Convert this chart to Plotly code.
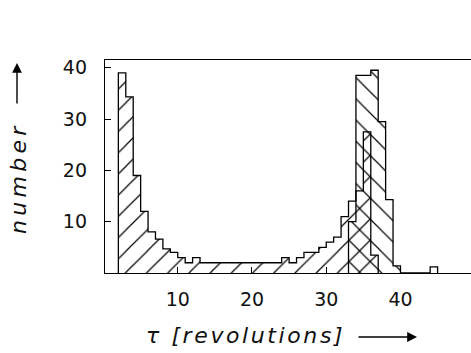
import plotly.graph_objects as go

# ---- data ----
bins_a = list(range(2, 37))            # left edges of the "///" histogram bins
counts_a = [39, 34.3, 19, 12, 8, 6.6, 4.7, 4, 3, 2, 3,
            2, 2, 2, 2, 2, 2, 2, 2, 2, 2, 2,
            3, 2, 3, 4, 4, 5, 6, 7, 11, 14, 16, 27.5, 3.5]
bins_b = list(range(33, 45))           # left edges of the "\\\" histogram bins
counts_b = [10, 38.5, 38.5, 39.5, 29.5, 14.3, 1.4, 0, 0, 0, 0, 1.2]
xticks = [10, 20, 30, 40]
yticks = [10, 20, 30, 40]
bin_width = 1

W, H = 471, 353
ML, MR, MT, MB = 105, 0, 60, 80
PW, PH = W - ML - MR, H - MT - MB


def px(x):
    return (x - ML) / PW


def py(y):
    return (H - MB - y) / PH


def outline(edges, counts):
    xs = [edges[0]] + edges + [edges[-1] + bin_width]
    ys = [0] + counts + [0]
    return xs, ys


fig = go.Figure()

for bins, counts, shape in [(bins_a, counts_a, '/'), (bins_b, counts_b, '\\')]:
    fig.add_trace(go.Bar(
        x=[b + bin_width / 2 for b in bins], y=counts, width=bin_width,
        marker=dict(color='rgba(0,0,0,0)', line=dict(width=0),
                    pattern=dict(shape=shape, fgcolor='black',
                                 bgcolor='rgba(0,0,0,0)', size=15,
                                 solidity=0.08, fillmode='replace')),
        hoverinfo='skip'))

for bins, counts in [(bins_a, counts_a), (bins_b, counts_b)]:
    xs, ys = outline(bins, counts)
    fig.add_trace(go.Scatter(x=xs, y=ys, mode='lines',
                             line=dict(color='black', width=1.3, shape='hv'),
                             hoverinfo='skip'))

tickfont = dict(family='DejaVu Sans', size=19, color='#111')
fig.update_xaxes(range=[0.2, 49.5], showline=True, linecolor='black',
                 linewidth=1.3, mirror=True, ticks='inside', ticklen=6,
                 tickwidth=1.2, tickcolor='black', tickvals=xticks,
                 tickfont=tickfont, showgrid=False, zeroline=False,
                 ticklabelstandoff=9)
fig.update_yaxes(range=[0, 41.5], showline=True, linecolor='black',
                 linewidth=1.3, mirror=False, ticks='inside', ticklen=6,
                 tickwidth=1.2, tickcolor='black', tickvals=yticks,
                 tickfont=tickfont, showgrid=False, zeroline=False,
                 ticklabelstandoff=13)

title_font = dict(family='DejaVu Sans', size=22, color='#111')
annotations = [
    dict(text='<i><span style="letter-spacing:4.3px">number</span></i>',
         textangle=-90, x=px(18), y=py(178), xref='paper', yref='paper',
         showarrow=False, font=title_font, xanchor='center', yanchor='middle'),
    dict(text='', x=px(17), y=py(63), xref='paper', yref='paper',
         showarrow=True, ax=0, ay=42, arrowhead=2, arrowsize=1.4,
         arrowwidth=1.4, arrowcolor='black'),
    dict(text='<i><span style="letter-spacing:2.6px">τ [revolutions]</span></i>',
         x=px(245), y=py(335), xref='paper', yref='paper',
         showarrow=False, font=title_font, xanchor='center', yanchor='middle'),
    dict(text='', x=px(417), y=py(337), xref='paper', yref='paper',
         showarrow=True, ax=-60, ay=0, arrowhead=2, arrowsize=1.4,
         arrowwidth=1.4, arrowcolor='black'),
]

fig.update_layout(width=W, height=H, margin=dict(l=ML, r=MR, t=MT, b=MB),
                  barmode='overlay', bargap=0, showlegend=False,
                  plot_bgcolor='white', paper_bgcolor='white',
                  annotations=annotations)

fig.write_html("out.html")
